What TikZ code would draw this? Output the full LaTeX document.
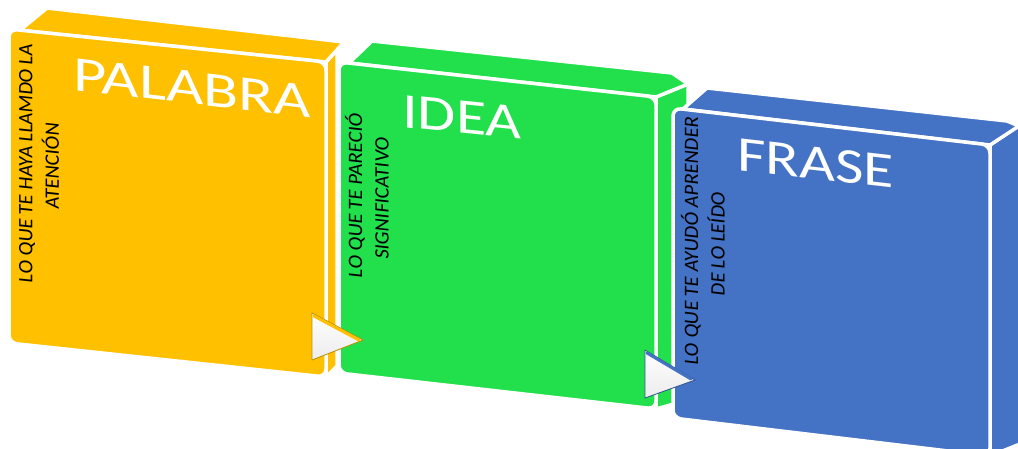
\documentclass[tikz,border=0pt]{standalone}
\usepackage{fontspec}
\setmainfont{Carlito}
\definecolor{gold}{HTML}{FFC000}
\definecolor{lgreen}{HTML}{22E04B}
\definecolor{oblue}{HTML}{4472C4}
\begin{document}
\begin{tikzpicture}[x=1pt,y=-1pt,
  face/.style={draw=white,line width=3.5pt,line join=round},
  title/.style={font=\fontsize{50}{50}\selectfont, text=white, inner sep=0pt, anchor=base west},
  vlabel/.style={font=\fontsize{20.5}{26.5}\selectfont, align=center, inner sep=0pt, text=black},
  tri/.style={top color=white, bottom color=gray!15, draw=#1!75!black, line width=0.8pt, line join=round}
]
\useasboundingbox (0,0) rectangle (1018,448);

% ---------- yellow block ----------
\filldraw[face, fill=gold] (326,62) -- (337,50) -- (337,366) -- (326,377) -- cycle;
\filldraw[face, fill=gold] (20,30.2) -- (47,8) -- (344,42) -- (326,62) -- cycle;
\filldraw[face, fill=gold, rounded corners=8pt] (9,29) -- (326,62) -- (326,377) -- (9,343) -- cycle;

% ---------- green block ----------
\filldraw[face, fill=lgreen] (656,97) -- (688,84) -- (688,400) -- (656,409) -- cycle;
\filldraw[face, fill=lgreen] (349,63) -- (372,41) -- (672,73) -- (688,84) -- (656,97) -- cycle;
\filldraw[face, fill=lgreen, rounded corners=8pt] (339,62) -- (656,97) -- (656,409) -- (339,373) -- cycle;

% arrow yellow -> green
\filldraw[tri=gold] (312,313) -- (363,340) -- (312,360) -- cycle;
\draw[gold, line width=3pt, line cap=round] (314,316) -- (359,340);

% ---------- blue block ----------
\filldraw[face, fill=oblue] (990,145) -- (1030,118) -- (1030,440) -- (990,456) -- cycle;
\filldraw[face, fill=oblue] (683,109) -- (707,88) -- (1007,121) -- (1019,126) -- (990,145) -- cycle;
\filldraw[face, fill=oblue, rounded corners=8pt] (673,108) -- (990,145) -- (990,456) -- (673,418) -- cycle;

% arrow green -> blue
\filldraw[tri=oblue] (645,350) -- (695,380) -- (645,398) -- cycle;
\draw[oblue, line width=3pt, line cap=round] (647,353) -- (691,379);

% ---------- titles ----------
\node[title, yslant=-0.117, xscale=1.29] (pal) at (73,90) {PALABRA};
\node[title, yslant=-0.10, xscale=1.24] (ide) at (402,127) {IDEA};
\node[title, yslant=-0.115, xscale=1.24] (fra) at (737,170) {FRASE};

% ---------- vertical labels ----------
\node[yslant=-0.105, rotate=90, vlabel] (l1) at (39,164.5) {LO QUE TE HAYA LLAMDO LA\\ATENCIÓN};
\node[yslant=-0.110, rotate=90, vlabel] (l2) at (367,196.5) {LO QUE TE PARECIÓ\\SIGNIFICATIVO};
\node[yslant=-0.117, rotate=90, vlabel] (l3) at (703,242) {LO QUE TE AYUDÓ APRENDER\\DE LO LEÍDO};
\end{tikzpicture}
\end{document}
